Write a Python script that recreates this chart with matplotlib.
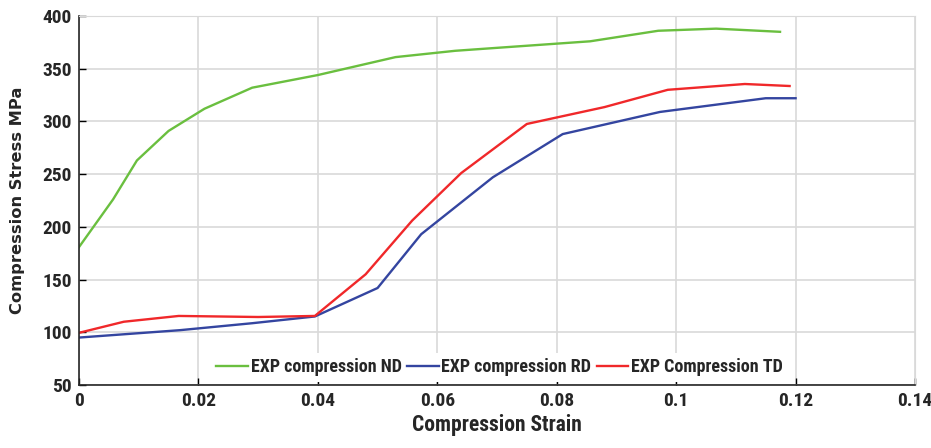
import matplotlib
matplotlib.use("Agg")
import matplotlib.pyplot as plt

# strain / stress
nd_strain = [0.0, 0.0057, 0.0097, 0.015, 0.021, 0.029, 0.040, 0.053, 0.063, 0.0705, 0.0856, 0.097, 0.1067, 0.1174]
nd_stress = [180.8, 226, 263, 291, 312, 332, 344, 361, 367, 370, 376, 386, 388, 385]

rd_strain = [0.0, 0.0169, 0.029, 0.0395, 0.050, 0.0573, 0.0693, 0.081, 0.0973, 0.115, 0.120]
rd_stress = [95, 102, 108.6, 115, 142, 193, 247, 288, 309, 322, 322]

td_strain = [0.0, 0.0075, 0.0167, 0.030, 0.0395, 0.048, 0.0558, 0.064, 0.075, 0.088, 0.0986, 0.1115, 0.119]
td_stress = [99.5, 110, 115.5, 114.5, 115.5, 155, 206, 251, 297.6, 313.6, 330, 335.5, 333.6]

x_ticks = [0, 0.02, 0.04, 0.06, 0.08, 0.1, 0.12, 0.14]
x_labels = ["0", "0.02", "0.04", "0.06", "0.08", "0.1", "0.12", "0.14"]
y_ticks = [50, 100, 150, 200, 250, 300, 350, 400]

narrow = ["Roboto Condensed", "DejaVu Sans"]
wide = ["DejaVu Sans"]
ink = "#262626"

fig = plt.figure(figsize=(9.31, 4.48), dpi=100)
ax = fig.add_axes([79 / 931, 1 - 385 / 448, 836 / 931, 369 / 448])

ax.plot(nd_strain, nd_stress, color="#6abf3f", lw=1.7, label="EXP compression ND")
ax.plot(rd_strain, rd_stress, color="#3445a0", lw=1.7, label="EXP compression RD")
ax.plot(td_strain, td_stress, color="#f0282a", lw=1.7, label="EXP Compression TD")

ax.set_xlim(0, 0.14)
ax.set_ylim(50, 400)
ax.set_xticks(x_ticks)
ax.set_xticklabels(x_labels)
ax.set_yticks(y_ticks)
ax.grid(True, color="#d9d9d9", lw=1.2)
ax.set_axisbelow(True)
ax.tick_params(direction="in", length=5, width=1, pad=5, top=False, right=False)
for lab in ax.get_xticklabels() + ax.get_yticklabels():
    lab.set_fontfamily(narrow)
    lab.set_fontweight("bold")
    lab.set_fontsize(14)
    lab.set_color(ink)

for side in ["top", "right"]:
    ax.spines[side].set_color("#d9d9d9")
for side in ["left", "bottom"]:
    ax.spines[side].set_color(ink)
    ax.spines[side].set_linewidth(1.2)

ax.set_xlabel("Compression Strain", fontfamily=narrow, fontweight="bold",
              fontsize=15.5, color=ink, labelpad=3)
ax.set_ylabel("Compression Stress MPa", fontfamily=wide, fontweight="bold",
              fontsize=11.7, color=ink)
ax.yaxis.set_label_coords(-0.064, 0.5)

leg = ax.legend(loc="center", bbox_to_anchor=(0.503, 0.048), ncol=3,
                frameon=True, facecolor="white", edgecolor="none", framealpha=1,
                handlelength=1.75, handletextpad=0.15, columnspacing=0.3,
                borderpad=0.3, prop={"family": narrow, "weight": "bold", "size": 13})
for t in leg.get_texts():
    t.set_color(ink)

fig.savefig("out.png", dpi=100)
